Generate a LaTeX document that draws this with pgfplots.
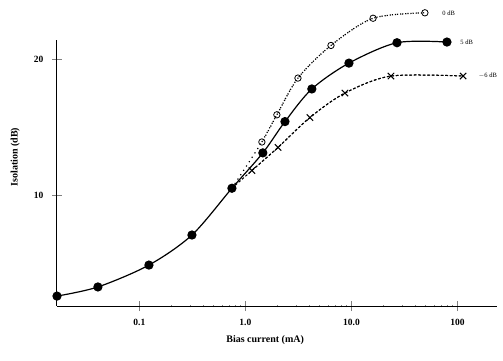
\documentclass[border=0pt]{standalone}
\usepackage{pgfplots}
\pgfplotsset{compat=1.18}
\usepackage{fontspec}
\setmainfont{Liberation Serif}
\begin{document}
\begin{tikzpicture}[x=1pt,y=1pt]
\useasboundingbox (0,0) rectangle (503,360);
\begin{axis}[
  at={(57pt,54pt)}, anchor=south west,
  scale only axis, width=440pt, height=266pt,
  xmode=log, xmin=0.0167, xmax=236,
  ymin=1.84, ymax=21.4,
  clip=false,
  axis x line=bottom, axis y line=left,
  axis line style={-, line width=1pt},
  xtick={0.1,1,10,100},
  xticklabels={0.1,1.0,10.0,100},
  ytick={10,20},
  yticklabels={10,20},
  minor xtick={}, minor ytick={},
  major tick length=10pt,
  x tick style={line width=0.8pt},
  y tick style={line width=0.8pt},
  tick align=center,
  /pgf/number format/assume math mode=true,
  ticklabel style={font=\fontsize{9.5}{10}\selectfont\bfseries},
  xticklabel style={yshift=-5pt},
  yticklabel style={xshift=-5pt},
  xlabel={Bias current (mA)},
  ylabel={Isolation (dB)},
  label style={font=\fontsize{10}{12}\selectfont\bfseries},
  xlabel style={at={(axis description cs:0.473,-0.128)}, anchor=center},
  ylabel style={at={(axis description cs:-0.095,0.56)}, anchor=center, rotate=0},
]
% filled circles, solid
\addplot[black, line width=1.2pt, smooth, mark=*, mark size=4pt, mark options={solid, fill=black}]
coordinates {
 (0.0167,2.57) (0.0406,3.24) (0.123,4.85) (0.313,7.06) (0.746,10.5)
 (1.46,13.1) (2.36,15.4) (4.23,17.8) (9.47,19.7) (26.9,21.2) (79.6,21.25)
};
% open circles, dotted
\addplot[black, line width=1.2pt, smooth, loosely dotted, mark=o, mark size=3.2pt, mark options={solid, line width=0.8pt}]
coordinates {
 (1.43,13.9) (1.98,15.9) (3.13,18.6) (6.41,21.0) (16.0,23.0) (49.3,23.4)
};
\addplot[black, line width=1.2pt, smooth, loosely dotted, forget plot]
coordinates {
 (0.746,10.5) (1.43,13.9) (1.98,15.9) (3.13,18.6) (6.41,21.0) (16.0,23.0) (49.3,23.4)
};
% crosses, dashed
\addplot[black, line width=1.0pt, smooth, dash pattern=on 2.5pt off 2pt, mark=x, mark size=4.5pt, mark options={solid, line width=1pt}]
coordinates {
 (1.15,11.8) (2.03,13.5) (4.06,15.7) (8.69,17.5) (23.6,18.75) (113,18.75)
};
\addplot[black, line width=1.0pt, smooth, dash pattern=on 2.5pt off 2pt, forget plot]
coordinates {
 (0.746,10.5) (1.15,11.8) (2.03,13.5) (4.06,15.7) (8.69,17.5) (23.6,18.75) (113,18.75)
};
\node[anchor=west, font=\fontsize{6.5}{7}\selectfont] at (axis cs:49.3,23.4) [xshift=14pt] {0 dB};
\node[anchor=west, font=\fontsize{6.5}{7}\selectfont] at (axis cs:79.6,21.25) [xshift=10pt] {5 dB};
\node[anchor=west, font=\fontsize{6.5}{7}\selectfont] at (axis cs:113,18.75) [xshift=12pt] {$-$6 dB};
\end{axis}
\end{tikzpicture}
\end{document}
